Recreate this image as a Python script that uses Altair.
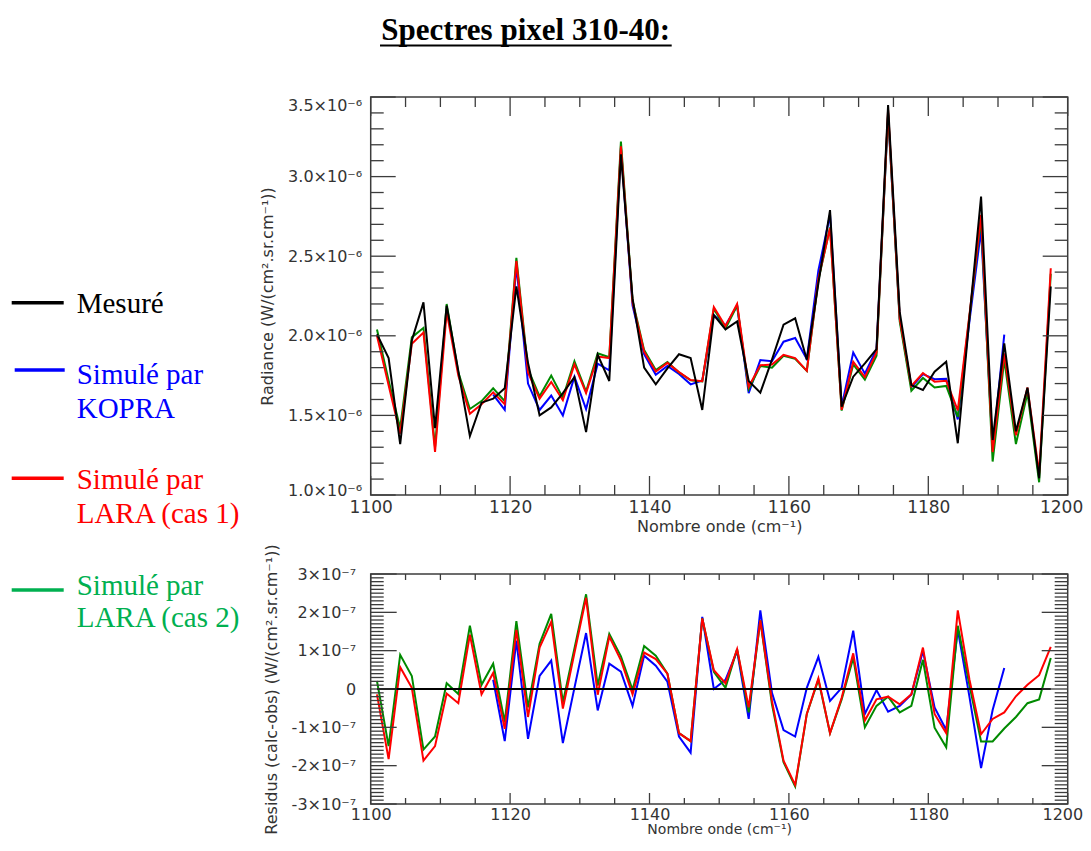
import altair as alt
import pandas as pd

# ---------------- data ----------------
X = [1100.9, 1102.57, 1104.23, 1105.9, 1107.57, 1109.23, 1110.9, 1112.57, 1114.23, 1115.9,
     1117.57, 1119.23, 1120.9, 1122.57, 1124.23, 1125.9, 1127.57, 1129.23, 1130.9, 1132.57,
     1134.23, 1135.9, 1137.57, 1139.23, 1140.9, 1142.57, 1144.23, 1145.9, 1147.57, 1149.23,
     1150.9, 1152.57, 1154.23, 1155.9, 1157.57, 1159.23, 1160.9, 1162.57, 1164.23, 1165.9,
     1167.57, 1169.23, 1170.9, 1172.57, 1174.23, 1175.9, 1177.57, 1179.23, 1180.9, 1182.57,
     1184.23, 1185.9, 1187.57, 1189.23, 1190.9, 1192.57, 1194.23, 1195.9, 1197.57]

# radiance, units of 1e-6 W/(cm2.sr.cm-1)
MESURE = [2.01, 1.86, 1.32, 1.97, 2.21, 1.42, 2.19, 1.78, 1.37, 1.58,
          1.605, 1.67, 2.31, 1.83, 1.50, 1.55, 1.64, 1.74, 1.395, 1.88,
          1.716, 3.14, 2.235, 1.80, 1.695, 1.795, 1.884, 1.86, 1.534, 2.13,
          2.04, 2.09, 1.716, 1.643, 1.85, 2.07, 2.11, 1.85, 2.33, 2.79,
          1.555, 1.743, 1.827, 1.917, 3.45, 2.15, 1.69, 1.66, 1.775, 1.837,
          1.325, 2.11, 2.874, 1.345, 1.953, 1.40, 1.674, 1.105, 2.31]
LARA1 = [2.0, 1.69, 1.385, 1.95, 2.02, 1.27, 2.15, 1.75, 1.51, 1.57,
         1.645, 1.57, 2.47, 1.77, 1.605, 1.71, 1.595, 1.82, 1.64, 1.87,
         1.86, 3.19, 2.21, 1.90, 1.775, 1.83, 1.772, 1.722, 1.715, 2.18,
         2.06, 2.20, 1.68, 1.815, 1.82, 1.88, 1.86, 1.78, 2.36, 2.675,
         1.535, 1.837, 1.74, 1.895, 3.42, 2.11, 1.685, 1.766, 1.712, 1.717,
         1.532, 2.13, 2.76, 1.27, 1.89, 1.375, 1.675, 1.135, 2.424]
LARA2 = [2.04, 1.72, 1.42, 1.99, 2.05, 1.30, 2.20, 1.77, 1.54, 1.59,
         1.67, 1.59, 2.49, 1.79, 1.62, 1.75, 1.61, 1.84, 1.65, 1.89,
         1.865, 3.22, 2.22, 1.91, 1.785, 1.835, 1.77, 1.72, 1.714, 2.17,
         2.045, 2.19, 1.665, 1.81, 1.80, 1.875, 1.855, 1.78, 2.35, 2.68,
         1.53, 1.82, 1.725, 1.875, 3.40, 2.09, 1.655, 1.735, 1.675, 1.685,
         1.49, 2.12, 2.735, 1.21, 1.85, 1.32, 1.64, 1.08, 2.39]
X_KOPRA = X[10:55]
KOPRA = [1.63, 1.535, 2.44, 1.70, 1.534, 1.625, 1.50, 1.743, 1.54, 1.825,
         1.783, 3.18, 2.19, 1.885, 1.755, 1.81, 1.76, 1.695, 1.72, 2.13,
         2.065, 2.19, 1.64, 1.848, 1.84, 1.963, 1.986, 1.853, 2.41, 2.76,
         1.558, 1.895, 1.762, 1.914, 3.39, 2.106, 1.676, 1.759, 1.727, 1.73,
         1.475, 2.09, 2.665, 1.29, 2.008]

# residuals, units of 1e-7 W/(cm2.sr.cm-1)
RES_LARA1 = [-0.14, -1.83, 0.57, 0.03, -1.87, -1.49, -0.12, -0.37, 1.42, -0.14,
             0.42, -1.04, 1.54, -0.73, 1.08, 1.75, -0.51, 0.94, 2.38, -0.15,
             1.37, 0.75, -0.14, 0.95, 0.78, 0.40, -1.15, -1.36, 1.84, 0.49,
             0.15, 1.04, -0.48, 1.79, -0.31, -1.87, -2.50, -0.65, 0.28, -1.15,
             -0.23, 0.93, -0.82, -0.27, -0.20, -0.40, -0.14, 1.08, -0.65, -1.15,
             2.05, 0.25, -1.18, -0.78, -0.61, -0.19, 0.11, 0.36, 1.10]
RES_LARA2 = [0.21, -1.49, 0.89, 0.34, -1.58, -1.24, 0.15, -0.13, 1.65, 0.11,
             0.66, -0.86, 1.77, -0.48, 1.18, 1.96, -0.35, 1.06, 2.47, 0.09,
             1.44, 0.85, -0.02, 1.12, 0.87, 0.40, -1.15, -1.36, 1.84, 0.45,
             0.03, 1.04, -0.61, 1.79, -0.40, -1.91, -2.54, -0.65, 0.24, -1.15,
             -0.27, 0.81, -1.00, -0.44, -0.20, -0.61, -0.44, 0.76, -1.01, -1.52,
             1.65, 0.10, -1.37, -1.37, -1.03, -0.73, -0.37, -0.27, 0.81]
RES_KOPRA = [0.24, -1.36, 1.26, -1.30, 0.34, 0.74, -1.41, 0.03, 1.46, -0.56,
             0.66, 0.45, -0.44, 0.87, 0.61, 0.19, -1.24, -1.66, 1.88, 0.0,
             0.24, 0.99, -0.78, 2.05, -0.10, -1.07, -1.24, 0.03, 0.84, -0.31,
             0.03, 1.52, -0.65, -0.03, -0.59, -0.44, -0.14, 0.99, -0.48, -1.07,
             1.55, -0.20, -2.06, -0.55, 0.55]

TITLE = "Spectres pixel 310-40:"
LEGEND_BLACK = ["Mesuré"]
LEGEND_BLUE = ["Simulé par", "KOPRA"]
LEGEND_RED = ["Simulé par", "LARA (cas 1)"]
LEGEND_GREEN = ["Simulé par", "LARA (cas 2)"]

X_TICKS_MAJOR = [1100, 1120, 1140, 1160, 1180, 1200]
X_TICKS_MINOR = [v for v in range(1105, 1200, 5) if v % 20 != 0]
TOP_Y_MAJOR = [1.0, 1.5, 2.0, 2.5, 3.0, 3.5]
TOP_Y_MINOR = [round(1.0 + 0.1 * k, 1) for k in range(1, 25) if k % 5 != 0]
BOT_Y_MAJOR = [-3, -2, -1, 0, 1, 2, 3]
BOT_Y_MINOR = [round(-3 + 0.1 * k, 1) for k in range(1, 60) if k % 10 != 0]

# ---------------- style ----------------
W, H1, H2, GAP = 697, 398, 230, 79
AX_FONT = "DejaVu Sans"
SERIF = "Liberation Serif"
FRAME = "#3c3c3c"
LABEL_C = "#333333"
C_BLACK, C_BLUE, C_RED, C_GREEN = "#000000", "#0000ff", "#ff0000", "#008a00"
C_GREEN_TXT = "#00b050"

# page geometry: plot-area origin of the top panel and the total drawing size
LEFT, TOP = 362.7, 89
TOTAL_W, TOTAL_H = 1075, 828

xscale = alt.Scale(domain=[1100, 1200], nice=False, zero=False)
ytop = alt.Scale(domain=[1.0, 3.5], nice=False, zero=False)
ybot = alt.Scale(domain=[-3, 3], nice=False, zero=False)


def xaxis(label_pad, label_size, title_size, title_pad):
    return alt.Axis(values=X_TICKS_MAJOR, format="d", ticks=False, domain=False, grid=False,
                    labelFlush=False, labelOverlap=False, labelPadding=label_pad,
                    labelAlign={"condition": {"test": "datum.value == 1200", "value": "right"},
                                "value": "center"},
                    labelOffset={"condition": {"test": "datum.value == 1200", "value": 15},
                                 "value": 0},
                    labelFont=AX_FONT, labelFontSize=label_size, labelColor=LABEL_C,
                    title="Nombre onde (cm⁻¹)", titleFont=AX_FONT, titleFontSize=title_size,
                    titleFontWeight="normal", titleColor=LABEL_C, titlePadding=title_pad)


X_AX_TOP = xaxis(4, 17, 16, 3)
X_AX_BOT = xaxis(2, 16, 14, 0)

Y_AX_TOP = alt.Axis(values=TOP_Y_MAJOR, ticks=False, domain=False, grid=False,
                    labelExpr="format(datum.value, '.1f') + '×10⁻⁶'",
                    labelFlush=False, labelOverlap=False, labelPadding=9,
                    labelBaseline={"condition": [
                        {"test": "datum.value == 3.5", "value": "top"},
                        {"test": "datum.value == 1.0", "value": "alphabetic"}],
                        "value": "middle"},
                    labelFont=AX_FONT, labelFontSize=16, labelColor=LABEL_C,
                    title="Radiance (W/(cm².sr.cm⁻¹))", titleFont=AX_FONT, titleFontSize=16,
                    titleFontWeight="normal", titleColor=LABEL_C, titlePadding=12)

Y_AX_BOT = alt.Axis(values=BOT_Y_MAJOR, ticks=False, domain=False, grid=False,
                    labelExpr="datum.value == 0 ? '0' : (datum.value < 0 ? '-' : '') + "
                              "format(abs(datum.value), 'd') + '×10⁻⁷'",
                    labelFlush=False, labelOverlap=False, labelPadding=15,
                    labelFont=AX_FONT, labelFontSize=16, labelColor=LABEL_C,
                    title="Residus (calc-obs) (W/(cm².sr.cm⁻¹))", titleFont=AX_FONT,
                    titleFontSize=16, titleFontWeight="normal", titleColor=LABEL_C,
                    titlePadding=12)


def series_line(xs, ys, color, yscale, xax, yax):
    df = pd.DataFrame({"x": xs, "y": ys})
    return alt.Chart(df).mark_line(color=color, strokeWidth=2).encode(
        x=alt.X("x:Q", scale=xscale, axis=xax),
        y=alt.Y("y:Q", scale=yscale, axis=yax),
    )


def ytick_layers(values, yscale, yax, length):
    df = pd.DataFrame({"v": values})
    base = alt.Chart(df).mark_rule(color=FRAME, strokeWidth=1.3)
    left = base.encode(y=alt.Y("v:Q", scale=yscale, axis=yax), x=alt.value(0), x2=alt.value(length))
    right = base.encode(y=alt.Y("v:Q", scale=yscale, axis=yax), x=alt.value(W - length), x2=alt.value(W))
    return [left, right]


def xtick_layers(values, xax, length, height):
    df = pd.DataFrame({"v": values})
    base = alt.Chart(df).mark_rule(color=FRAME, strokeWidth=1.3)
    bottom = base.encode(x=alt.X("v:Q", scale=xscale, axis=xax), y=alt.value(height - length), y2=alt.value(height))
    top = base.encode(x=alt.X("v:Q", scale=xscale, axis=xax), y=alt.value(0), y2=alt.value(length))
    return [bottom, top]


def text_layer(label, x, y, color, size, font=SERIF, weight="normal", align="left"):
    return alt.Chart(pd.DataFrame({"t": [label]})).mark_text(
        font=font, fontSize=size, fontWeight=weight, color=color, align=align, baseline="alphabetic"
    ).encode(text="t:N", x=alt.value(x), y=alt.value(y))


def hline(x1, x2, y, color, width):
    return alt.Chart(pd.DataFrame({"k": [0]})).mark_rule(color=color, strokeWidth=width, strokeCap="butt").encode(
        x=alt.value(x1), x2=alt.value(x2), y=alt.value(y))


# ---------------- top panel ----------------
top_layers = [
    series_line(X_KOPRA, KOPRA, C_BLUE, ytop, X_AX_TOP, Y_AX_TOP),
    series_line(X, LARA2, C_GREEN, ytop, X_AX_TOP, Y_AX_TOP),
    series_line(X, LARA1, C_RED, ytop, X_AX_TOP, Y_AX_TOP),
    series_line(X, MESURE, C_BLACK, ytop, X_AX_TOP, Y_AX_TOP),
]
top_layers += ytick_layers(TOP_Y_MAJOR, ytop, Y_AX_TOP, 25)
top_layers += ytick_layers(TOP_Y_MINOR, ytop, Y_AX_TOP, 13)
top_layers += xtick_layers(X_TICKS_MAJOR, X_AX_TOP, 19, H1)
top_layers += xtick_layers(X_TICKS_MINOR, X_AX_TOP, 10, H1)

# title (underlined) and legend, placed to the left of / above the panels
top_layers += [
    text_layer(TITLE, 155, -57.5, "#000000", 31, weight="bold", align="center"),
    hline(9.3, 301, -51.5, "#000000", 2),
    hline(-359, -307, 205.7, C_BLACK, 3.5),
    text_layer(LEGEND_BLACK[0], -294, 216, C_BLACK, 29),
    hline(-356, -306, 273, C_BLUE, 3.5),
    text_layer(LEGEND_BLUE[0], -294, 287, C_BLUE, 29),
    text_layer(LEGEND_BLUE[1], -294, 321.3, C_BLUE, 29),
    hline(-359, -307, 381.3, C_RED, 3.5),
    text_layer(LEGEND_RED[0], -294, 392, C_RED, 29),
    text_layer(LEGEND_RED[1], -294, 426.3, C_RED, 29),
    hline(-359, -307, 493, C_GREEN_TXT, 3.5),
    text_layer(LEGEND_GREEN[0], -294, 498, C_GREEN_TXT, 29),
    text_layer(LEGEND_GREEN[1], -294, 529.7, C_GREEN_TXT, 29),
]

top = alt.layer(*top_layers).properties(width=W, height=H1)

# ---------------- bottom panel ----------------
zero_df = pd.DataFrame({"x0": [X[0]], "x1": [X[-1]], "y": [0]})
zero_line = alt.Chart(zero_df).mark_rule(color="#000000", strokeWidth=2).encode(
    x=alt.X("x0:Q", scale=xscale, axis=X_AX_BOT), x2="x1:Q",
    y=alt.Y("y:Q", scale=ybot, axis=Y_AX_BOT))

bot_layers = [
    series_line(X_KOPRA, RES_KOPRA, C_BLUE, ybot, X_AX_BOT, Y_AX_BOT),
    series_line(X, RES_LARA2, C_GREEN, ybot, X_AX_BOT, Y_AX_BOT),
    series_line(X, RES_LARA1, C_RED, ybot, X_AX_BOT, Y_AX_BOT),
    zero_line,
]
bot_layers += ytick_layers(BOT_Y_MAJOR, ybot, Y_AX_BOT, 26)
bot_layers += ytick_layers(BOT_Y_MINOR, ybot, Y_AX_BOT, 13)
bot_layers += xtick_layers(X_TICKS_MAJOR, X_AX_BOT, 11, H2)
bot_layers += xtick_layers(X_TICKS_MINOR, X_AX_BOT, 6, H2)

bottom = alt.layer(*bot_layers).properties(width=W, height=H2)

# with autosize "none" the drawing is (padding + panel width) x (padding); anything outside is cut
PAD_RIGHT = TOTAL_W - LEFT - W
PAD_BOTTOM = TOTAL_H - TOP

chart = alt.vconcat(top, bottom, spacing=GAP, bounds="flush").properties(
    autosize=alt.AutoSizeParams(type="none"),
    padding={"left": LEFT, "top": TOP, "right": PAD_RIGHT, "bottom": PAD_BOTTOM},
    background="white",
).configure_view(stroke=FRAME, strokeWidth=1.5)

chart.save("out.html", embed_options={"renderer": "svg", "actions": False})
